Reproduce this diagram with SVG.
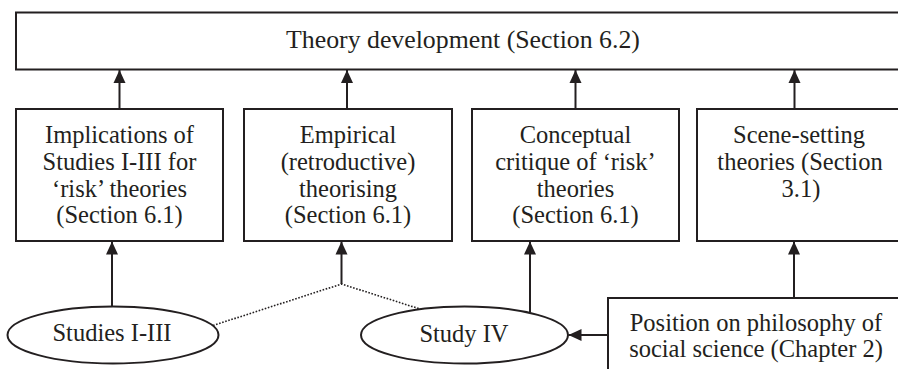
<svg xmlns="http://www.w3.org/2000/svg" width="898" height="369" viewBox="0 0 898 369">
  <style>
    .box { fill: #ffffff; stroke: #231f20; stroke-width: 2; }
    .solid { stroke: #231f20; stroke-width: 2; fill: none; }
    .dotted { stroke: #231f20; stroke-width: 1.6; fill: none; stroke-dasharray: 1.6 1.6; }
  </style>
  <defs>
    <marker id="arrow" markerUnits="userSpaceOnUse" markerWidth="14" markerHeight="14" viewBox="0 0 14 14" refX="13" refY="7" orient="auto">
      <path d="M0,1 L13,7 L0,13 Z" fill="#231f20"/>
    </marker>
  </defs>
  <rect width="898" height="369" fill="#ffffff"/>

  <g id="theory-development">
    <rect class="box" x="16" y="12.5" width="900" height="57"/>
    <text x="463" y="48" text-anchor="middle" fill="#231f20" style="font-family:'Liberation Serif',serif;font-size:25.8px">Theory development (Section 6.2)</text>
  </g>

  <g id="implications" text-anchor="middle" fill="#231f20">
    <rect class="box" x="16" y="109" width="207" height="132"/>
    <text x="119.5" y="143" style="font-family:'Liberation Serif',serif;font-size:24.5px">Implications of</text>
    <text x="119.5" y="170" style="font-family:'Liberation Serif',serif;font-size:24.5px">Studies I-III for</text>
    <text x="119.5" y="197" style="font-family:'Liberation Serif',serif;font-size:24.5px">‘risk’ theories</text>
    <text x="119.5" y="223" style="font-family:'Liberation Serif',serif;font-size:24.5px">(Section 6.1)</text>
  </g>

  <g id="empirical" text-anchor="middle" fill="#231f20">
    <rect class="box" x="244" y="109" width="208" height="132"/>
    <text x="348" y="143" style="font-family:'Liberation Serif',serif;font-size:24.5px">Empirical</text>
    <text x="348" y="170" style="font-family:'Liberation Serif',serif;font-size:24.5px">(retroductive)</text>
    <text x="348" y="197" style="font-family:'Liberation Serif',serif;font-size:24.5px">theorising</text>
    <text x="348" y="223" style="font-family:'Liberation Serif',serif;font-size:24.5px">(Section 6.1)</text>
  </g>

  <g id="conceptual" text-anchor="middle" fill="#231f20">
    <rect class="box" x="472" y="109" width="207" height="132"/>
    <text x="575.5" y="143" style="font-family:'Liberation Serif',serif;font-size:24.5px">Conceptual</text>
    <text x="575.5" y="170" style="font-family:'Liberation Serif',serif;font-size:24.5px">critique of ‘risk’</text>
    <text x="575.5" y="197" style="font-family:'Liberation Serif',serif;font-size:24.5px">theories</text>
    <text x="575.5" y="223" style="font-family:'Liberation Serif',serif;font-size:24.5px">(Section 6.1)</text>
  </g>

  <g id="scene-setting" text-anchor="middle" fill="#231f20">
    <rect class="box" x="697" y="109" width="220" height="132"/>
    <text x="799" y="143" style="font-family:'Liberation Serif',serif;font-size:24.5px">Scene-setting</text>
    <text x="800" y="170" style="font-family:'Liberation Serif',serif;font-size:24.5px">theories (Section</text>
    <text x="801" y="197" style="font-family:'Liberation Serif',serif;font-size:24.5px">3.1)</text>
  </g>

  <g id="studies-1-3" text-anchor="middle" fill="#231f20">
    <ellipse class="box" cx="113" cy="335" rx="105.5" ry="28.5"/>
    <text x="112" y="341" style="font-family:'Liberation Serif',serif;font-size:24.5px">Studies I-III</text>
  </g>

  <g id="study-4" text-anchor="middle" fill="#231f20">
    <ellipse class="box" cx="464.5" cy="335" rx="103.5" ry="28.5"/>
    <text x="464" y="342" style="font-family:'Liberation Serif',serif;font-size:24.5px">Study IV</text>
  </g>

  <g id="philosophy-position" text-anchor="middle" fill="#231f20">
    <rect class="box" x="608" y="298" width="310" height="90"/>
    <text x="756" y="331" style="font-family:'Liberation Serif',serif;font-size:24.5px">Position on philosophy of</text>
    <text x="756" y="357" style="font-family:'Liberation Serif',serif;font-size:24.5px">social science (Chapter 2)</text>
  </g>

  <g id="connectors">
    <line class="solid" x1="119.5" y1="109" x2="119.5" y2="70" marker-end="url(#arrow)"/>
    <line class="solid" x1="347" y1="109" x2="347" y2="70" marker-end="url(#arrow)"/>
    <line class="solid" x1="575.5" y1="109" x2="575.5" y2="70" marker-end="url(#arrow)"/>
    <line class="solid" x1="794.5" y1="109" x2="794.5" y2="70" marker-end="url(#arrow)"/>

    <line class="solid" x1="112" y1="307" x2="112" y2="241.5" marker-end="url(#arrow)"/>
    <line class="solid" x1="341.5" y1="284" x2="341.5" y2="241.5" marker-end="url(#arrow)"/>
    <polyline class="dotted" points="213,325.5 341.5,284 420,309"/>
    <line class="solid" x1="530" y1="312" x2="530" y2="241.5" marker-end="url(#arrow)"/>

    <line class="solid" x1="608" y1="335" x2="568.5" y2="335" marker-end="url(#arrow)"/>
    <line class="solid" x1="794" y1="298" x2="794" y2="241.5" marker-end="url(#arrow)"/>
  </g>
</svg>
